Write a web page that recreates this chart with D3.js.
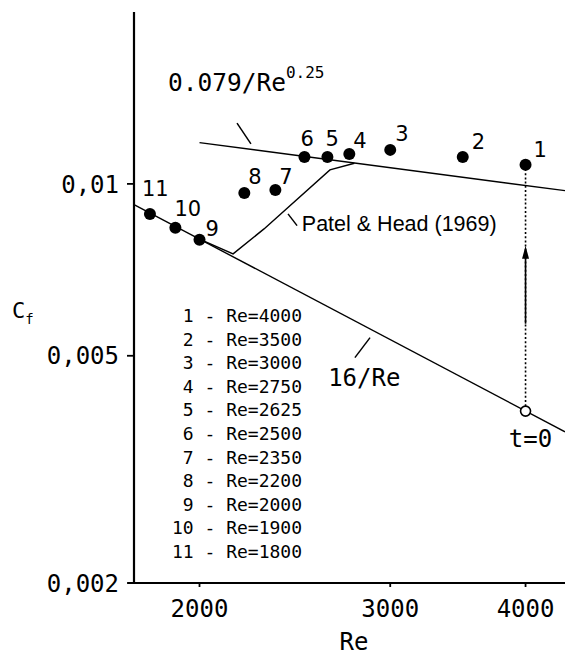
<!DOCTYPE html>
<html>
<head>
<meta charset="utf-8">
<script src="https://cdn.jsdelivr.net/npm/d3@7"></script>
<style>
html,body{margin:0;padding:0;background:#fff;overflow:hidden;}
svg{display:block;}
</style>
</head>
<body>
<svg id="chart" width="565" height="655"></svg>
<script>
// ---------------- data ----------------
const pointLabels = ["1","2","3","4","5","6","7","8","9","10","11"];
const reValues = [4000, 3500, 3000, 2750, 2625, 2500, 2350, 2200, 2000, 1900, 1800];
const cfValues = [0.0108, 0.01115, 0.01147, 0.01128, 0.01115, 0.01115, 0.00976, 0.00964, 0.00798, 0.00838, 0.00886];

const xTicks = [2000, 3000, 4000];
const xTickLabels = ["2000", "3000", "4000"];
const yTicks = [0.01, 0.005, 0.002];
const yTickLabels = ["0,01", "0,005", "0,002"];

// laminar 16/Re (straight on log-log), read end points
const laminarRe = [1740, 4350];
const laminarCf = [0.0092, 0.00368];
// Blasius 0.079/Re^0.25
const blasiusRe = [2000, 4350];
const blasiusCf = [0.01181, 0.00973];
// Patel & Head (1969)
const patelRe = [2000, 2148, 2294, 2639, 2780];
const patelCf = [0.008, 0.00754, 0.00834, 0.01058, 0.01087];

// initial state t=0
const startRe = 4000;
const startCf = 0.004;
const arrowCf = [0.00569, 0.00779];

// ---------------- setup ----------------
const svg = d3.select("#chart");
const W = 565, H = 655;
const axisX = 134, axisY = 583, topY = 12;

const x = d3.scaleLog().domain([1740, 4350]).range([134, 565]);
const y = d3.scaleLog().domain([0.002, 0.02]).range([583, 12]);

const mono = "'DejaVu Sans Mono', monospace";
const sans = "'DejaVu Sans', sans-serif";
const lineGen = d3.line().x(d => x(d[0])).y(d => y(d[1]));

// ---------------- axes ----------------
svg.append("line").attr("x1", axisX).attr("x2", axisX).attr("y1", topY).attr("y2", axisY)
  .attr("stroke", "#000").attr("stroke-width", 2.2);
svg.append("line").attr("x1", 128).attr("x2", W).attr("y1", axisY).attr("y2", axisY)
  .attr("stroke", "#000").attr("stroke-width", 2.2);

const yt = svg.append("g");
yTicks.forEach((t, i) => {
  yt.append("line").attr("x1", axisX - 7).attr("x2", axisX).attr("y1", y(t)).attr("y2", y(t))
    .attr("stroke", "#000").attr("stroke-width", 1.8);
  yt.append("text").attr("x", 119).attr("y", y(t)).attr("dy", "0.36em")
    .attr("text-anchor", "end").attr("font-family", mono).attr("font-size", 24)
    .text(yTickLabels[i]);
});
const xt = svg.append("g");
xTicks.forEach((t, i) => {
  xt.append("line").attr("x1", x(t)).attr("x2", x(t)).attr("y1", axisY).attr("y2", axisY + 4)
    .attr("stroke", "#000").attr("stroke-width", 1.8);
  xt.append("text").attr("x", x(t)).attr("y", 617)
    .attr("text-anchor", "middle").attr("font-family", mono).attr("font-size", 24)
    .text(xTickLabels[i]);
});
svg.append("text").attr("x", 354).attr("y", 650).attr("text-anchor", "middle")
  .attr("font-family", mono).attr("font-size", 24).text("Re");
const cl = svg.append("text").attr("x", 12).attr("y", 318).attr("font-family", mono).attr("font-size", 22);
cl.append("tspan").text("C");
cl.append("tspan").attr("font-size", 14).attr("dy", 6).text("f");

// ---------------- curves ----------------
svg.append("path").datum(d3.zip(laminarRe, laminarCf)).attr("d", lineGen)
  .attr("fill", "none").attr("stroke", "#000").attr("stroke-width", 1.4);
svg.append("path").datum(d3.zip(blasiusRe, blasiusCf)).attr("d", lineGen)
  .attr("fill", "none").attr("stroke", "#000").attr("stroke-width", 1.4);
svg.append("path").datum(d3.zip(patelRe, patelCf)).attr("d", lineGen)
  .attr("fill", "none").attr("stroke", "#000").attr("stroke-width", 1.4);

// ---------------- annotations ----------------
function leader(re1, cf1, re2, cf2) {
  svg.append("line").attr("x1", x(re1)).attr("y1", y(cf1)).attr("x2", x(re2)).attr("y2", y(cf2))
    .attr("stroke", "#000").attr("stroke-width", 1.5);
}
leader(2166, 0.01278, 2231, 0.01175);
const bl = svg.append("text").attr("x", x(1870)).attr("y", y(0.01454))
  .attr("font-family", mono).attr("font-size", 24.5);
bl.append("tspan").text("0.079/Re");
bl.append("tspan").attr("font-size", 16).attr("dy", -13).text("0.25");

leader(2414, 0.00886, 2461, 0.00845);
svg.append("text").attr("x", x(2486)).attr("y", y(0.00828))
  .attr("font-family", "'Liberation Sans', Arial, sans-serif").attr("font-size", 21.5)
  .text("Patel & Head (1969)");

leader(2874, 0.005379, 2783, 0.004962);
svg.append("text").attr("x", x(2629)).attr("y", y(0.004435))
  .attr("font-family", mono).attr("font-size", 24).text("16/Re");

// dotted vertical line from t=0 to point 1
svg.append("line").attr("x1", x(startRe)).attr("x2", x(startRe))
  .attr("y1", y(cfValues[0])).attr("y2", y(startCf))
  .attr("stroke", "#000").attr("stroke-width", 1.6).attr("stroke-dasharray", "2,2.2");
// arrow
const ax = x(startRe);
svg.append("line").attr("x1", ax).attr("x2", ax).attr("y1", y(arrowCf[0])).attr("y2", y(arrowCf[1]) + 8)
  .attr("stroke", "#000").attr("stroke-width", 1.6);
const tipY = y(arrowCf[1]);
svg.append("path").attr("d", `M${ax},${tipY} L${ax - 3.5},${tipY + 13} L${ax + 3.5},${tipY + 13} Z`)
  .attr("fill", "#000");

// open circle t=0
svg.append("circle").attr("cx", x(startRe)).attr("cy", y(startCf)).attr("r", 5)
  .attr("fill", "#fff").attr("stroke", "#000").attr("stroke-width", 1.6);
svg.append("text").attr("x", x(startRe) + 5).attr("y", y(startCf) + 36).attr("text-anchor", "middle")
  .attr("font-family", mono).attr("font-size", 24).text("t=0");

// ---------------- points ----------------
const labelOffsets = [[8,-8],[9,-8],[5,-9],[4,-6],[-2,-11],[-4,-11],[4,-6],[4,-9],[6,-4],[-1,-12],[-8,-18]];
const pts = svg.append("g");
reValues.forEach((re, i) => {
  const cx = x(re), cy = y(cfValues[i]);
  pts.append("circle").attr("cx", cx).attr("cy", cy).attr("r", 6).attr("fill", "#000");
  pts.append("text").attr("x", cx + labelOffsets[i][0]).attr("y", cy + labelOffsets[i][1])
    .attr("font-family", sans).attr("font-size", 21).text(pointLabels[i]);
});

// ---------------- legend list ----------------
const lg = svg.append("g");
pointLabels.forEach((p, i) => {
  const num = p.length < 2 ? " " + p : p;
  lg.append("text").attr("x", 172).attr("y", 322 + i * 23.6)
    .attr("font-family", mono).attr("font-size", 18).attr("xml:space", "preserve")
    .style("white-space", "pre")
    .text(num + " - Re=" + reValues[i]);
});
</script>
</body>
</html>
